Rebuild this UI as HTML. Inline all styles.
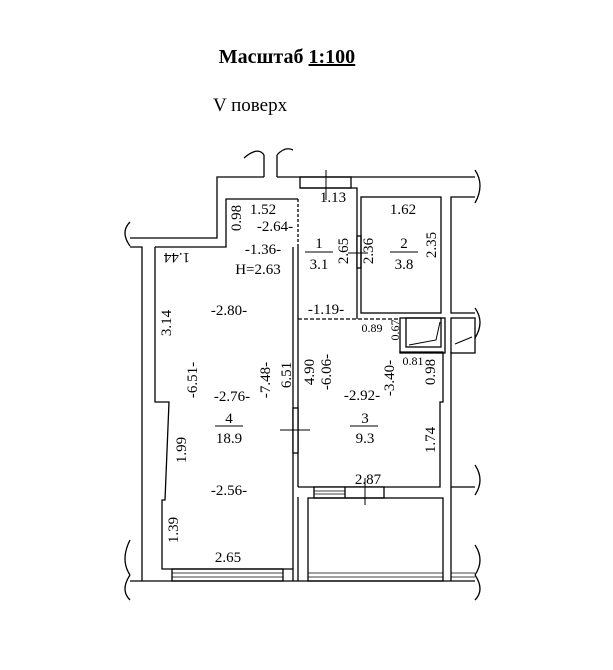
<!DOCTYPE html>
<html><head><meta charset="utf-8"><style>
html,body{margin:0;padding:0;background:#fff;}
svg{display:block}
text{font-family:"Liberation Serif",serif;fill:#000;}
</style></head><body>
<svg width="613" height="670" viewBox="0 0 613 670" xmlns="http://www.w3.org/2000/svg">
<text x="287" y="63" font-size="20" font-weight="bold" text-anchor="middle">Масштаб <tspan text-decoration="underline">1:100</tspan></text>
<text x="213" y="111" font-size="19">V поверх</text>
<g stroke="#000" stroke-width="1.3" fill="none">
<polyline points="130,238 217,238 217,177 264,177"/>
<polyline points="277,177 300,177"/>
<line x1="264" y1="177" x2="264" y2="155"/><line x1="277" y1="177" x2="277" y2="155"/>
<path d="M244,158 Q258,146 264,155 M277,155 Q285,146 293,150"/>
<line x1="300" y1="177" x2="475" y2="177"/>
<rect x="300" y="177" width="51" height="11"/>
<line x1="326" y1="170" x2="326" y2="200" stroke-width="1"/>
<polyline points="130,247 142,247 142,581"/>
<polyline points="155,247 226,247 226,199 298,199" />
<line x1="298" y1="199" x2="298" y2="247" stroke-dasharray="3,2"/>
<polyline points="155,247 155,402 169,402 165,500 162,500 162,569 293,569"/>
<path d="M130,222 Q120,232 130,246 M130,540 Q120,560 130,575"/>
<line x1="293" y1="247" x2="293" y2="581"/>
<line x1="298" y1="247" x2="298" y2="487"/>
<line x1="298" y1="497" x2="298" y2="581"/>
<rect x="293" y="408" width="5" height="45" fill="#fff"/>
<line x1="280" y1="430" x2="310" y2="430" stroke-width="1"/>
<polyline points="300,188 357,188 357,319"/>
<line x1="298" y1="319" x2="400" y2="319" stroke-dasharray="4,2"/>
<rect x="357" y="236" width="4" height="32" fill="#fff"/>
<line x1="348" y1="253" x2="368" y2="253" stroke-width="1"/>
<rect x="361" y="197" width="80" height="116"/>
<polyline points="475,197 451,197 451,313 475,313"/>
<path d="M475,170 Q485,185 475,203 M475,308 Q485,322 475,338"/>
<rect x="400" y="318" width="45" height="35"/>
<rect x="406" y="318" width="35" height="29"/>
<polyline points="409,345 436,340 440,322" stroke-width="1"/>
<rect x="451" y="318" width="24" height="35"/>
<polyline points="455,344 472,337" stroke-width="1"/>
<polyline points="400,353 400,352 443,352 443,402 440,402 440,487 298,487"/>
<rect x="314" y="487" width="70" height="11" fill="#fff"/>
<line x1="314" y1="491" x2="345" y2="491" stroke-width="0.8"/>
<line x1="314" y1="494" x2="345" y2="494" stroke-width="0.8"/>
<line x1="345" y1="487" x2="345" y2="498"/>
<line x1="365" y1="478" x2="365" y2="505" stroke-width="1"/>
<polyline points="451,352 451,581"/>
<line x1="451" y1="487" x2="475" y2="487"/>
<path d="M475,465 Q485,480 475,495 M475,545 Q485,560 475,575"/>
<rect x="308" y="498" width="135" height="83"/>
<line x1="130" y1="581" x2="475" y2="581"/>
<rect x="172" y="569" width="111" height="12"/>
<line x1="172" y1="573" x2="283" y2="573" stroke-width="0.8"/>
<line x1="172" y1="577" x2="283" y2="577" stroke-width="0.8"/>
<line x1="308" y1="573" x2="443" y2="573" stroke-width="0.8"/>
<line x1="308" y1="577" x2="443" y2="577" stroke-width="0.8"/>
<line x1="451" y1="573" x2="475" y2="573" stroke-width="0.8"/>
<line x1="451" y1="577" x2="475" y2="577" stroke-width="0.8"/>
<path d="M130,575 Q120,590 130,600 M475,575 Q485,590 475,600"/>
<line x1="305" y1="252" x2="333" y2="252" stroke-width="1"/>
<line x1="390" y1="252" x2="418" y2="252" stroke-width="1"/>
<line x1="215" y1="426" x2="243" y2="426" stroke-width="1"/>
<line x1="350" y1="426" x2="378" y2="426" stroke-width="1"/>
</g>
<g font-size="15" text-anchor="middle">
<text x="333" y="202">1.13</text>
<text x="263" y="214">1.52</text>
<text x="275" y="231">-2.64-</text>
<text x="403" y="214">1.62</text>
<text x="263" y="254">-1.36-</text>
<text x="258" y="274">H=2.63</text>
<text x="319" y="248">1</text><text x="319" y="269">3.1</text>
<text x="404" y="248">2</text><text x="404" y="269">3.8</text>
<text x="229" y="315">-2.80-</text>
<text x="326" y="314">-1.19-</text>
<text x="372" y="332" font-size="12">0.89</text>
<text x="413" y="365" font-size="12">0.81</text>
<text x="232" y="401">-2.76-</text>
<text x="362" y="400">-2.92-</text>
<text x="229" y="423">4</text><text x="229" y="443">18.9</text>
<text x="365" y="423">3</text><text x="365" y="443">9.3</text>
<text x="368" y="484">2.87</text>
<text x="229" y="495">-2.56-</text>
<text x="228" y="562">2.65</text>
<text transform="translate(236,218) rotate(-90)" y="5">0.98</text>
<text transform="translate(177,258) rotate(180)" y="5">1.44</text>
<text transform="translate(343,251) rotate(-90)" y="5">2.65</text>
<text transform="translate(368,251) rotate(-90)" y="5">2.36</text>
<text transform="translate(431,245) rotate(-90)" y="5">2.35</text>
<text transform="translate(166,323) rotate(-90)" y="5">3.14</text>
<text transform="translate(395,330) rotate(-90)" y="4" font-size="12">0.67</text>
<text transform="translate(430,372) rotate(-90)" y="5">0.98</text>
<text transform="translate(192,380) rotate(-90)" y="5">-6.51-</text>
<text transform="translate(265,380) rotate(-90)" y="5">-7.48-</text>
<text transform="translate(286,375) rotate(-90)" y="5">6.51</text>
<text transform="translate(309,372) rotate(-90)" y="5">4.90</text>
<text transform="translate(326,372) rotate(-90)" y="5">-6.06-</text>
<text transform="translate(389,378) rotate(-90)" y="5">-3.40-</text>
<text transform="translate(181,450) rotate(-90)" y="5">1.99</text>
<text transform="translate(430,440) rotate(-90)" y="5">1.74</text>
<text transform="translate(173,530) rotate(-90)" y="5">1.39</text>
</g>
</svg>
</body></html>
